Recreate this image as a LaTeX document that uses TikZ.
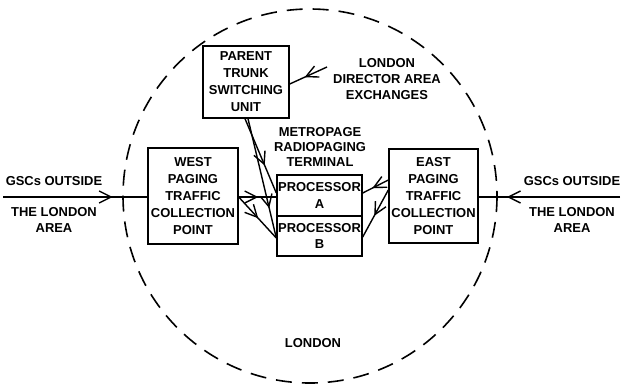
\documentclass[tikz,border=0pt]{standalone}
\usepackage{fontspec}
\setmainfont{Liberation Sans}
\usetikzlibrary{positioning,arrows.meta,decorations.markings,calc}

\begin{document}
\begin{tikzpicture}[
  x=1bp, y=-1bp,
  box/.style={draw, line width=1.4bp, align=center, inner sep=0pt,
    font=\fontsize{13}{17}\selectfont\bfseries},
  lbl/.style={align=center, inner sep=0pt,
    font=\fontsize{13}{16.5}\selectfont\bfseries},
  link/.style={line width=1.4bp},
  midarr/.style={postaction={decorate}, decoration={markings,
    mark=at position #1 with {\arrow{Straight Barb[length=12bp,width=12bp]}}}},
  london/.style={dash pattern=on 16bp off 10bp, line width=1.6bp}
]
\useasboundingbox (0,0) rectangle (622,385);
\draw[london] (310,196) circle[radius=187];
% boxes
\node[box, minimum width=86bp, minimum height=72bp] (ptsu) at (246,82) {PARENT\\TRUNK\\SWITCHING\\UNIT};
\node[box, minimum width=90bp, minimum height=96bp] (west) at (193,196) {WEST\\PAGING\\TRAFFIC\\COLLECTION\\POINT};
\node[box, minimum width=85bp, minimum height=41bp] (procA) at (319.5,195.5) {PROCESSOR\\A};
\node[box, minimum width=85bp, minimum height=40bp, below=-1.4bp of procA] (procB) {PROCESSOR\\B};
\node[box, minimum width=89bp, minimum height=94bp] (east) at (433.5,196) {EAST\\PAGING\\TRAFFIC\\COLLECTION\\POINT};
% labels
\node[lbl, font=\fontsize{13}{15}\selectfont\bfseries] (mrt) at (320,147) {METROPAGE\\RADIOPAGING\\TERMINAL};
\node[lbl] (ldae) at (387,79) {LONDON\\DIRECTOR AREA\\EXCHANGES};
\node[lbl] (gscW) at (54,181) {GSCs OUTSIDE};
\node[lbl] (areaW) at (54,220) {THE LONDON\\AREA};
\node[lbl] (gscE) at (572,181) {GSCs OUTSIDE};
\node[lbl] (areaE) at (572,220) {THE LONDON\\AREA};
\node[lbl] (city) at (313,343) {LONDON};
% free ends
\coordinate (inW) at (3,197);
\coordinate (inE) at (620,197);
\coordinate (ldaeIn) at (327,67);
% connectors
\draw[link, midarr=0.76] (inW) -- (inW -| west.west);
\draw[link, midarr=0.8] (inE) -- (inE -| east.east);
\draw[link, midarr=0.6] (ldaeIn) -- ([yshift=-2bp]ptsu.east);
\draw[link, midarr=0.63] ([xshift=-1bp]ptsu.south) -- ([yshift=2.5bp]procA.west);
\draw[link, midarr=0.75] ([xshift=2bp]ptsu.south) -- ([yshift=-2bp]procB.west);
\draw[link, midarr=0.52] ([yshift=-1bp]west.east) -- ([yshift=-1.5bp]procA.west);
\draw[link, midarr=0.52] ([yshift=-1bp]west.east) -- ([yshift=-2bp]procB.west);
\draw[link, midarr=0.62] ([yshift=16bp]east.west) -- ([yshift=2.5bp]procA.east);
\draw[link, midarr=0.55] ([yshift=6bp]east.west) -- ([yshift=-1bp]procB.east);
\end{tikzpicture}
\end{document}
